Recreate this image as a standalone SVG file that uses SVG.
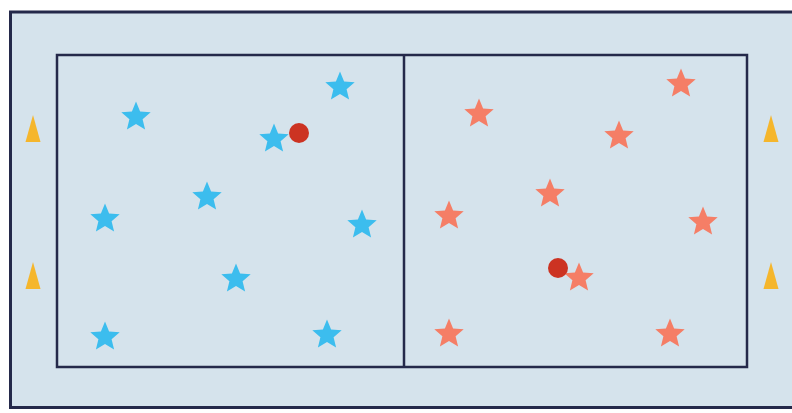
<svg xmlns="http://www.w3.org/2000/svg" width="792" height="413" viewBox="0 0 792 413">
<defs>
<style>
.line{fill:none;stroke:#24294a;stroke-width:2.5}
.blue{fill:#3cbdee}
.red{fill:#f57e66}
.ball{fill:#cc3322}
.cone{fill:#f5b62c}
</style>
<path id="star" d="M0,-15.5 L4.1,-5.6 L14.7,-4.8 L6.6,2.2 L9.1,12.5 L0,7 L-9.1,12.5 L-6.6,2.2 L-14.7,-4.8 L-4.1,-5.6 Z"/>
<path id="cone" d="M0,-14 L7.5,13 L-7.5,13 Z"/>
</defs>
<rect width="792" height="413" fill="#ffffff"/>
<rect x="10" y="11" width="790" height="397" fill="#d5e3ec"/>
<g id="field">
<rect x="10.5" y="12" width="790" height="395.5" class="line" style="stroke-width:3"/>
<rect x="57" y="55" width="690" height="312" class="line"/>
<line x1="404" y1="55" x2="404" y2="367" class="line"/>
</g>
<g id="cones">
<use href="#cone" x="33" y="129" class="cone"/>
<use href="#cone" x="33" y="276" class="cone"/>
<use href="#cone" x="771" y="129" class="cone"/>
<use href="#cone" x="771" y="276" class="cone"/>
</g>
<g id="blue-team">
<use href="#star" x="136" y="117" class="blue"/>
<use href="#star" x="340" y="87" class="blue"/>
<use href="#star" x="274" y="139" class="blue"/>
<use href="#star" x="207" y="197" class="blue"/>
<use href="#star" x="105" y="219" class="blue"/>
<use href="#star" x="362" y="225" class="blue"/>
<use href="#star" x="236" y="279" class="blue"/>
<use href="#star" x="105" y="337" class="blue"/>
<use href="#star" x="327" y="335" class="blue"/>
</g>
<g id="red-team">
<use href="#star" x="479" y="114" class="red"/>
<use href="#star" x="681" y="84" class="red"/>
<use href="#star" x="619" y="136" class="red"/>
<use href="#star" x="550" y="194" class="red"/>
<use href="#star" x="449" y="216" class="red"/>
<use href="#star" x="703" y="222" class="red"/>
<use href="#star" x="579" y="278" class="red"/>
<use href="#star" x="449" y="334" class="red"/>
<use href="#star" x="670" y="334" class="red"/>
</g>
<g id="balls">
<circle cx="299" cy="133" r="10" class="ball"/>
<circle cx="558" cy="268" r="10" class="ball"/>
</g>
</svg>
